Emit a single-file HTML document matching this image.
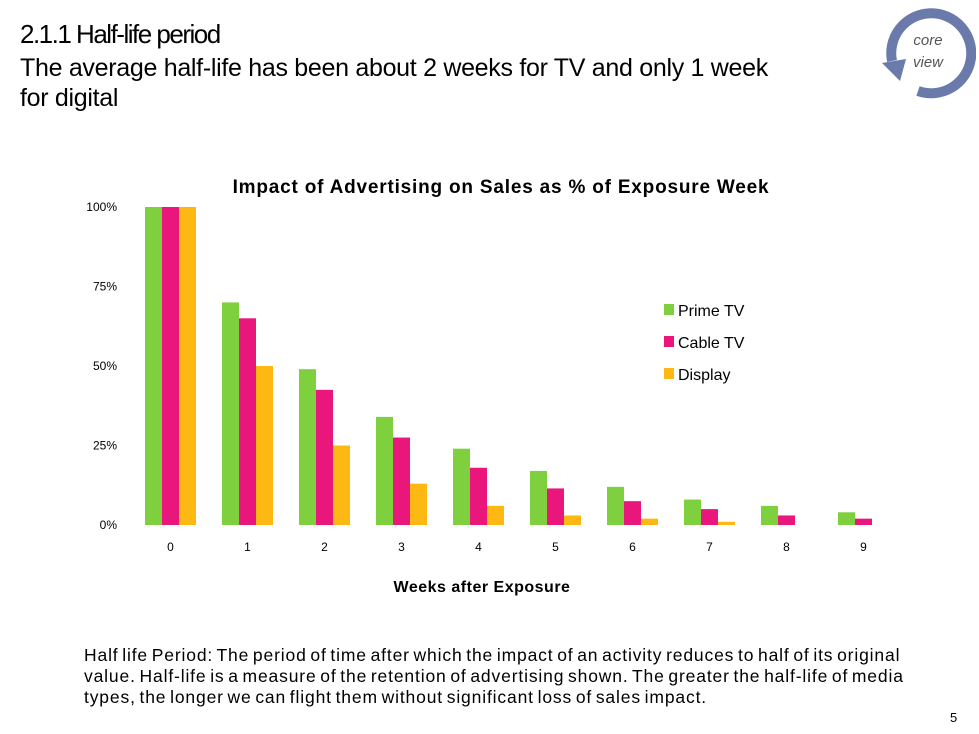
<!DOCTYPE html>
<html><head><meta charset="utf-8"><style>
body{margin:0;width:979px;height:734px;background:#fff;font-family:"Liberation Sans",sans-serif;overflow:hidden;position:relative}
.t{position:absolute;color:#000}
</style></head><body>
<div class="t" style="left:20px;top:19px;font-size:26px;letter-spacing:-1.5px">2.1.1 Half-life period</div>
<div class="t" style="left:20px;top:53px;font-size:25px;line-height:30px;letter-spacing:-0.3px;width:820px">The average half-life has been about 2 weeks for TV and only 1 week<br>for digital</div>
<svg style="position:absolute;left:878px;top:3px" width="98" height="96" viewBox="0 0 98 96">
<path d="M 14 58 A 40 40 0 1 1 40 88" fill="none" stroke="#6a7bab" stroke-width="10"/>
<polygon points="4,60 28,56 22,78" fill="#6a7bab"/>
<text x="50" y="42" font-size="15" font-style="italic" fill="#555" text-anchor="middle">core</text>
<text x="50" y="64" font-size="15" font-style="italic" fill="#555" text-anchor="middle">view</text>
</svg>
<svg id="chart" style="position:absolute;left:0;top:0" width="979" height="734"></svg>
<div class="t" style="left:84px;top:645px;font-size:17.5px;line-height:21px;width:880px;letter-spacing:0.85px;word-spacing:-2px;white-space:nowrap">Half life Period: The period of time after which the impact of an activity reduces to half of its original<br>value. Half-life is a measure of the retention of advertising shown. The greater the half-life of media<br>types, the longer we can flight them without significant loss of sales impact.</div>
<div class="t" style="left:950px;top:710px;font-size:13px">5</div>
<script>
const categories=["0","1","2","3","4","5","6","7","8","9"];
const primeTV=[100,70,49,34,24,17,12,8,6,4];
const cableTV=[100,65,42.5,27.5,18,11.5,7.5,5,3,2];
const display=[100,50,25,13,6,3,2,1,0,0];
const yTicks=[0,25,50,75,100];
const yTickLabels=["0%","25%","50%","75%","100%"];
const seriesNames=["Prime TV","Cable TV","Display"];
const colors=["#7ed03e","#e9177c","#fdb813"];
const svg=document.getElementById('chart');
const NS="http://www.w3.org/2000/svg";
const y0=525,yTop=207,x0=145,step=77,bw=17;
const y=v=>y0-(v/100)*(y0-yTop);
function mk(tag,attrs,txt){const e=document.createElementNS(NS,tag);for(const k in attrs)e.setAttribute(k,attrs[k]);if(txt!==undefined)e.textContent=txt;svg.appendChild(e);return e;}
let t=mk('text',{x:501,y:193,'font-size':19,'font-weight':'bold','text-anchor':'middle','letter-spacing':'0.8'},'Impact of Advertising on Sales as % of Exposure Week');


yTicks.forEach((v,i)=>{const e=mk('text',{x:117,y:y(v)+4,'font-size':12,'text-anchor':'end'},yTickLabels[i]);

});
const series=[primeTV,cableTV,display];
categories.forEach((c,i)=>{
 series.forEach((s,j)=>{const r=mk('rect',{x:x0+i*step+j*bw,y:y(s[i]),width:bw,height:y0-y(s[i]),fill:colors[j]});
 
 });
 const e=mk('text',{x:x0+i*step+bw*1.5,y:551,'font-size':12,'text-anchor':'middle'},c);
 
 
});
t=mk('text',{x:482,y:592,'font-size':16,'font-weight':'bold','text-anchor':'middle','letter-spacing':'0.5'},'Weeks after Exposure');


seriesNames.forEach((n,j)=>{
 const r=mk('rect',{x:664,y:304+j*32,width:10,height:11,fill:colors[j]});
 
 
 const e=mk('text',{x:678,y:316+j*32,'font-size':16},n);
 
 
});
</script>
</body></html>
